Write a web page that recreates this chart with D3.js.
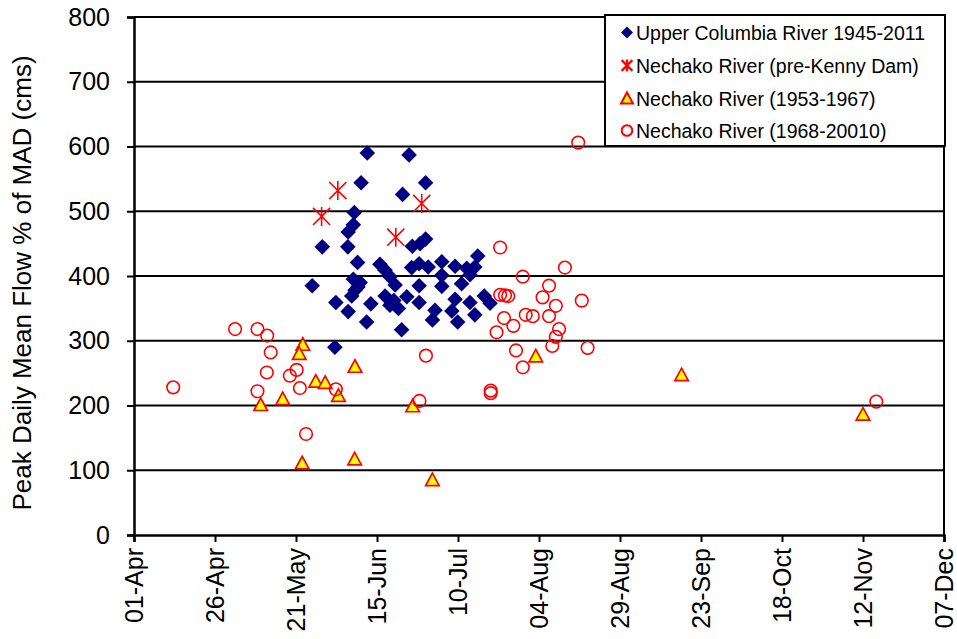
<!DOCTYPE html>
<html><head><meta charset="utf-8">
<script src="https://cdn.jsdelivr.net/npm/d3@7"></script>
<style>body{margin:0;background:#fff}</style>
</head><body><svg id="c" width="957" height="639"></svg>
<script>
// x values are days after 01-Apr
const xTickLabels = ["01-Apr","26-Apr","21-May","15-Jun","10-Jul","04-Aug","29-Aug","23-Sep","18-Oct","12-Nov","07-Dec"];
const xTickDays = [0,25,50,75,100,125,150,175,200,225,250];
const yTicks = [0,100,200,300,400,500,600,700,800];
const seriesNames = ["Upper Columbia River 1945-2011","Nechako River (pre-Kenny Dam)","Nechako River (1953-1967)","Nechako River (1968-20010)"];

const columbiaDay = [72.0,84.9,70.1,90.0,82.9,68.0,67.7,66.1,58.1,66.0,69.0,55.0,75.9,77.5,79.0,80.6,67.7,69.8,68.2,67.2,62.3,66.1,73.1,71.8,77.5,79.0,81.6,82.6,85.9,88.3,90.0,85.7,88.0,90.8,95.0,99.1,102.7,105.2,106.1,95.0,103.7,88.0,95.0,101.1,84.2,88.0,99.1,98.1,103.7,105.2,108.1,109.9,92.9,92.1,99.9,62.0,69.1,80.2];
const columbiaFlow = [590,587,544,544,526,498,479,468,445,445,421,385,418,409,399,386,395,390,378,369,359,345,357,329,369,355,350,317,446,450,457,413,419,414,422,415,412,414,431,401,402,385,384,388,368,359,364,346,359,340,369,358,347,332,329,290,383,362];

const preDamDay = [62.9,57.9,80.8,88.8];
const preDamFlow = [532,492,460,512];

const early1953Day = [52.1,51.0,68.2,56.1,59.0,63.1,45.9,39.1,51.9,68.1,86.0,92.1,124.0,169.0,225.0];
const early1953Flow = [294,280,260,237,235,215,210,201,111,117,199,85,276,247,186];

const late1968Day = [12.1,31.2,38.1,41.1,42.2,41.0,38.1,48.1,50.2,51.2,53.1,62.3,90.1,88.1,110.1,110.1,113.0,133.0,120.0,128.1,126.1,138.2,113.0,114.5,115.5,130.2,120.9,123.1,128.1,114.2,117.1,111.9,131.2,130.2,129.1,140.0,117.9,120.0,137.1,229.1];
const late1968Flow = [228,318,318,308,282,251,222,246,255,227,156,225,277,207,223,219,444,413,399,385,367,362,371,370,369,354,340,338,338,335,323,313,318,306,292,289,285,259,606,206];

const svg = d3.select("#c");
const L = 134, R = 944, T = 17, B = 535;
const x = d3.scaleLinear().domain([0,250]).range([L,R]);
const y = d3.scaleLinear().domain([0,800]).range([B,T]);
const font = "Liberation Sans, Arial, sans-serif";

// gridlines
svg.append("g").selectAll("line").data(yTicks.filter(d=>d>0)).join("line")
  .attr("x1",L).attr("x2",R).attr("y1",d=>y(d)).attr("y2",d=>y(d))
  .attr("stroke","#000").attr("stroke-width",2);
// right border
svg.append("line").attr("x1",R).attr("x2",R).attr("y1",T).attr("y2",B).attr("stroke","#000").attr("stroke-width",2);

// y axis
const ya = svg.append("g").attr("transform",`translate(${L},0)`)
  .call(d3.axisLeft(y).tickValues(yTicks).tickSize(7).tickPadding(17).tickFormat(d3.format("d")));
ya.select(".domain").attr("stroke","#000").attr("stroke-width",2.5);
ya.selectAll(".tick line").attr("stroke","#000").attr("stroke-width",2);
ya.selectAll("text").attr("font-family",font).attr("font-size",25).attr("fill","#000");

// x axis
const xa = svg.append("g").attr("transform",`translate(0,${B})`)
  .call(d3.axisBottom(x).tickValues(xTickDays).tickSize(7).tickFormat((d,i)=>xTickLabels[i]));
xa.select(".domain").attr("stroke","#000").attr("stroke-width",2.5);
xa.selectAll(".tick line").attr("stroke","#000").attr("stroke-width",2);
xa.selectAll("text").attr("font-family",font).attr("font-size",25).attr("fill","#000")
  .attr("transform","rotate(-90)").attr("text-anchor","end").attr("x",-13).attr("y",0).attr("dy","0.33em");

// y title
svg.append("text").attr("transform","translate(31,283) rotate(-90)").attr("text-anchor","middle")
  .attr("font-family",font).attr("font-size",26).attr("fill","#000")
  .text("Peak Daily Mean Flow % of MAD (cms)");

// symbols
const diamond = r => `M0,${-r}L${r},0L0,${r}L${-r},0Z`;
const tri = (w,h) => `M0,${-h*0.55}L${w/2},${h*0.45}L${-w/2},${h*0.45}Z`;
const star = r => `M0,${-r}V${r}M${-r*0.9},${-r*0.9}L${r*0.9},${r*0.9}M${r*0.9},${-r*0.9}L${-r*0.9},${r*0.9}`;

const g = svg.append("g");
g.selectAll(".cd").data(d3.zip(columbiaDay,columbiaFlow)).join("path")
  .attr("d",diamond(7.8)).attr("fill","#000080")
  .attr("transform",d=>`translate(${x(d[0])},${y(d[1])})`);
g.selectAll(".pd").data(d3.zip(preDamDay,preDamFlow)).join("path")
  .attr("d",star(9.5)).attr("fill","none").attr("stroke","#ff0000").attr("stroke-width",1.6)
  .attr("transform",d=>`translate(${x(d[0])},${y(d[1])})`);
g.selectAll(".tr").data(d3.zip(early1953Day,early1953Flow)).join("path")
  .attr("d",tri(13.5,12.5)).attr("fill","#ffff00").attr("stroke","#ff0000").attr("stroke-width",1.7)
  .attr("transform",d=>`translate(${x(d[0])},${y(d[1])})`);
g.selectAll(".ci").data(d3.zip(late1968Day,late1968Flow)).join("circle")
  .attr("cx",d=>x(d[0])).attr("cy",d=>y(d[1])).attr("r",6.3)
  .attr("fill","none").attr("stroke","#ff0000").attr("stroke-width",1.6);

// legend
const lg = svg.append("g");
lg.append("rect").attr("x",605).attr("y",15).attr("width",340).attr("height",131)
  .attr("fill","#fff").attr("stroke","#000").attr("stroke-width",2);
const rowY = [32.5,65.5,98.5,130.5];
const sx = 627;
lg.append("path").attr("d",diamond(6)).attr("fill","#000080").attr("transform",`translate(${sx},${rowY[0]})`);
lg.append("path").attr("d",star(6)).attr("fill","none").attr("stroke","#ff0000").attr("stroke-width",2.2).attr("transform",`translate(${sx},${rowY[1]})`);
lg.append("path").attr("d",tri(12,11)).attr("fill","#ffff00").attr("stroke","#ff0000").attr("stroke-width",2).attr("transform",`translate(${sx},${rowY[2]})`);
lg.append("circle").attr("cx",sx).attr("cy",rowY[3]).attr("r",5.3).attr("fill","none").attr("stroke","#ff0000").attr("stroke-width",2);
lg.selectAll("text").data(seriesNames).join("text")
  .attr("x",636).attr("y",(d,i)=>rowY[i]).attr("dy","0.36em")
  .attr("font-family",font).attr("font-size",19.5).attr("fill","#000").text(d=>d);
</script></body></html>
